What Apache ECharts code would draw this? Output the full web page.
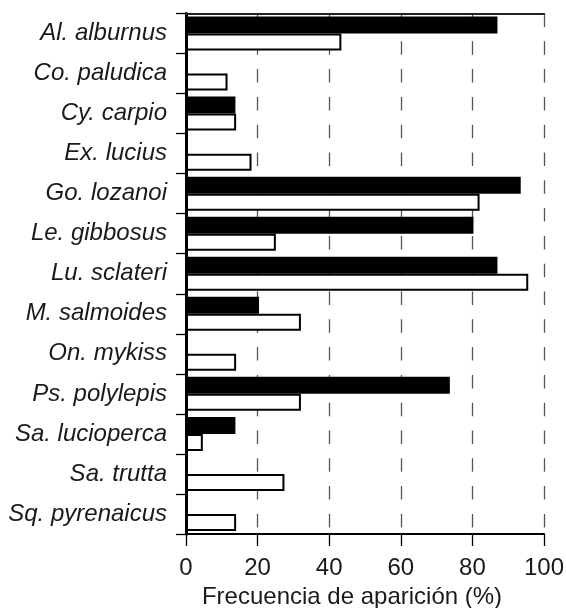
<!DOCTYPE html>
<html>
<head>
<meta charset="utf-8">
<script src="https://cdn.jsdelivr.net/npm/echarts@6/dist/echarts.min.js"></script>
<style>
  html, body { margin: 0; padding: 0; background: #fff; }
  #chart { width: 566px; height: 608px; }
</style>
</head>
<body>
<div id="chart"></div>
<script>
// species (top to bottom)
const species = [
  'Al. alburnus', 'Co. paludica', 'Cy. carpio', 'Ex. lucius', 'Go. lozanoi',
  'Le. gibbosus', 'Lu. sclateri', 'M. salmoides', 'On. mykiss', 'Ps. polylepis',
  'Sa. lucioperca', 'Sa. trutta', 'Sq. pyrenaicus'
]
// black bars
const blackValues = [87, 0, 13.8, 0, 93.5, 80.3, 87, 20.4, 0, 73.7, 13.8, 0, 0]
// white bars
const whiteValues = [43.4, 11.6, 14, 18.3, 82, 25.1, 95.6, 32.1, 14, 32.1, 4.7, 27.5, 14]
const xTicks = [0, 20, 40, 60, 80, 100]

const font = '"Liberation Sans", Arial, sans-serif'
const chart = echarts.init(document.getElementById('chart'))

chart.setOption({
  animation: false,
  grid: {
    left: 186, right: 22, top: 13.5, bottom: 74,
    containLabel: false,
    outerBoundsMode: 'none'
  },
  xAxis: [
    {
      type: 'value',
      min: xTicks[0],
      max: xTicks[xTicks.length - 1],
      interval: 20,
      name: 'Frecuencia de aparición (%)',
      nameLocation: 'middle',
      nameGap: 40,
      nameTextStyle: {
        fontFamily: font, fontSize: 24, color: '#1a1a1a',
        padding: [0, 26, 0, 0]
      },
      axisLine: { show: true, lineStyle: { color: '#000', width: 2 } },
      axisTick: { show: true, length: 12, lineStyle: { color: '#000', width: 1.3 } },
      axisLabel: { margin: 22, fontFamily: font, fontSize: 24, color: '#1a1a1a' },
      splitLine: {
        show: true,
        lineStyle: { color: '#555', width: 1.3, type: [13.5, 14.3] }
      }
    },
    {
      type: 'value',
      position: 'top',
      min: 0,
      max: 100,
      interval: 20,
      axisLine: { show: true, lineStyle: { color: '#222', width: 2 } },
      axisTick: { show: false },
      axisLabel: { show: false },
      splitLine: { show: false }
    }
  ],
  yAxis: [
    {
      type: 'category',
      data: species,
      inverse: true,
      axisLine: { show: true, lineStyle: { color: '#000', width: 2 } },
      axisTick: { show: true, length: 10, lineStyle: { color: '#000', width: 1.3 } },
      axisLabel: {
        margin: 19,
        fontFamily: font,
        fontStyle: 'italic',
        fontSize: 24,
        color: '#1a1a1a'
      }
    },
    {
      type: 'category',
      data: species,
      inverse: true,
      position: 'right',
      axisLine: { show: true, lineStyle: { color: '#000', width: 3 } },
      axisTick: { show: false },
      axisLabel: { show: false }
    }
  ],
  series: [
    {
      type: 'bar',
      data: blackValues,
      barWidth: 17,
      barGap: '0%',
      itemStyle: { color: '#000' }
    },
    {
      type: 'bar',
      data: whiteValues,
      barWidth: 17,
      barGap: '0%',
      itemStyle: { color: '#fff', borderColor: '#000', borderWidth: 2 }
    }
  ]
})
</script>
</body>
</html>
